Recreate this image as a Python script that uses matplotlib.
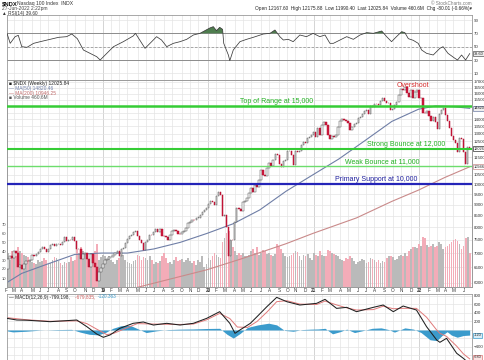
import matplotlib
matplotlib.use('Agg')
import matplotlib.pyplot as plt
import matplotlib.dates as mdates
import matplotlib.transforms as mtrans
from matplotlib.ticker import FixedLocator, FixedFormatter, NullLocator
import numpy as np
import pandas as pd

plt.rcParams['font.family'] = ['Liberation Sans', 'DejaVu Sans']

# ---------------- data (weekly) ----------------
first_week = '2018-01-29'
prior_close = 7005
closes_2018 = [6761, 6432, 6788, 6882, 6826, 7067, 7000, 6520, 6581, 6452, 6627, 6713, 6709, 6764,
               6929, 6893, 6964, 7042, 7152, 7209, 7149, 7040, 7137, 7283, 7333, 7247, 7334, 7335,
               7285, 7403, 7625, 7439, 7496, 7484, 7627, 7441, 7138, 7149, 6800, 6964, 7011, 6795,
               6526, 6949, 6647, 6517, 6066, 6330, 6466]
closes_2019 = [6629, 6769, 6773, 6850, 6858, 6947, 7013, 7070, 6879, 7140, 7176, 7378, 7517, 7634,
               7672, 7810, 7845, 7650, 7485, 7374, 7127, 7425, 7490, 7698, 7671, 7813, 7917, 7822,
               7933, 7647, 7636, 7614, 7473, 7692, 7852, 7903, 7829, 7725, 7720, 7805, 7834, 7980,
               8177, 8242, 8322, 8302, 8403, 8411, 8513, 8664, 8770, 8849]
closes_2020 = [9018, 9174, 9126, 8996, 9401, 9623, 9447, 8462, 8530, 7995, 6879, 7502, 7487, 8230,
               8833, 8784, 8718, 9121, 9152, 9325, 9556, 9815, 9589, 9946, 9849, 10207, 10768, 10503,
               10461, 10905, 11139, 11019, 11325, 11696, 11622, 11088, 10936, 11273, 11361, 11853,
               11895, 11666, 11053, 11895, 11830, 11859, 12258, 12462, 12377, 12735, 12804, 12888]
closes_2021 = [13105, 12803, 13366, 12925, 13612, 13803, 13574, 12909, 12659, 12819, 12782, 12874,
               13480, 13845, 14041, 13950, 13860, 13720, 13250, 13470, 13687, 13770, 14069, 14142,
               14360, 14640, 14703, 14427, 15008, 14960, 15128, 15125, 15085, 15356, 15653, 15374,
               15252, 15258, 14690, 14745, 15115, 15335, 15850, 16367, 16277, 16573, 16025, 15712,
               16335, 15618, 16140, 16320]
closes_2022 = [15595, 15612, 14475, 14440, 14620, 14253, 13900, 14200, 13840, 13300, 14420, 14730,
               14860, 14280, 13900, 13360, 12855, 12580, 12390, 11835, 12681, 12650, 11830, 11130,
               12140, 12026]

vol_2018 = [42, 48, 38, 30, 40, 36, 35, 44, 40, 38, 36, 34, 33, 30, 28, 27, 26, 30, 28, 29, 32, 30,
            26, 27, 30, 33, 32, 29, 27, 25, 28, 27, 28, 33, 29, 30, 42, 38, 44, 40, 36, 34, 30, 38,
            37, 40, 48, 30, 33]
vol_2019 = [36, 34, 30, 35, 30, 28, 26, 30, 32, 34, 36, 30, 28, 27, 26, 29, 30, 36, 34, 30, 33, 32,
            30, 35, 30, 26, 28, 27, 29, 34, 38, 32, 27, 28, 26, 30, 33, 29, 30, 31, 28, 30, 32, 29,
            27, 29, 24, 30, 28, 35, 22, 26]
vol_2020 = [32, 30, 34, 38, 36, 33, 32, 50, 55, 60, 62, 52, 45, 40, 36, 38, 36, 38, 35, 34, 36, 40,
            42, 38, 44, 36, 38, 41, 40, 37, 38, 36, 35, 37, 48, 46, 42, 38, 35, 33, 35, 36, 38, 40,
            39, 35, 30, 36, 34, 37, 32, 30]
vol_2021 = [38, 36, 34, 40, 36, 35, 34, 41, 40, 38, 37, 36, 34, 31, 30, 29, 32, 31, 35, 32, 29, 26,
            28, 29, 31, 30, 27, 28, 32, 31, 30, 28, 30, 27, 29, 28, 32, 34, 35, 33, 30, 31, 34, 36,
            35, 38, 34, 40, 42, 45, 44, 43]
vol_2022 = [48, 46, 56, 55, 47, 44, 46, 48, 45, 46, 50, 48, 42, 44, 46, 48, 50, 52, 53, 51, 48, 42,
            46, 55, 56, 38]

ma50_dates = ['2018-01-29', '2018-04-01', '2018-07-01', '2018-10-01', '2019-01-01', '2019-04-01',
              '2019-07-01', '2019-10-01', '2020-01-01', '2020-04-01', '2020-07-01', '2020-10-01',
              '2021-01-01', '2021-04-01', '2021-07-01', '2021-10-01', '2022-01-01', '2022-03-01',
              '2022-05-01', '2022-06-27']
ma50_vals = [5950, 6300, 6620, 6950, 7000, 7000, 7150, 7400, 7750, 8150, 8750, 9650, 10500, 11400,
             12550, 13850, 14750, 15000, 14950, 14820]
ma200_dates = ['2019-05-01', '2019-10-01', '2020-01-01', '2020-05-01', '2020-10-01', '2021-01-01',
               '2021-06-01', '2021-10-01', '2022-01-01', '2022-04-01', '2022-06-27']
ma200_vals = [5850, 6200, 6420, 6800, 7350, 7750, 8400, 9150, 9700, 10350, 10946]

rsi_dates = ['2018-02-09', '2018-02-20', '2018-03-09', '2018-03-20', '2018-04-01', '2018-04-19',
             '2018-05-12', '2018-06-04', '2018-07-08', '2018-08-06', '2018-09-03', '2018-09-21',
             '2018-10-10', '2018-10-31', '2018-11-23', '2018-12-16', '2018-12-28', '2019-01-20',
             '2019-02-12', '2019-03-18', '2019-04-21', '2019-04-29', '2019-06-01', '2019-06-24',
             '2019-07-11', '2019-07-28', '2019-08-15', '2019-09-07', '2019-09-30', '2019-10-23',
             '2019-11-15', '2019-12-08', '2019-12-25', '2020-01-11', '2020-01-23', '2020-02-03',
             '2020-02-14', '2020-02-24', '2020-02-28', '2020-03-15', '2020-03-20', '2020-04-01',
             '2020-04-24', '2020-05-17', '2020-06-09', '2020-07-14', '2020-08-06', '2020-08-23',
             '2020-09-09', '2020-09-21', '2020-10-08', '2020-10-25', '2020-11-17', '2020-12-10',
             '2021-01-02', '2021-01-25', '2021-02-12', '2021-03-01', '2021-03-13', '2021-04-05',
             '2021-04-28', '2021-05-21', '2021-06-13', '2021-07-06', '2021-07-29', '2021-08-27',
             '2021-09-13', '2021-09-30', '2021-10-17', '2021-11-04', '2021-11-15', '2021-11-27',
             '2021-12-14', '2021-12-31', '2022-01-12', '2022-01-29', '2022-02-21', '2022-03-16',
             '2022-03-27', '2022-04-13', '2022-05-07', '2022-05-16', '2022-05-30', '2022-06-13',
             '2022-06-27']
rsi_vals = [70, 55, 65, 67, 50, 49, 55, 57.5, 61, 64, 65, 69, 62, 45, 40, 35, 30, 40, 50, 57.5,
            66, 70, 47.5, 57.5, 65, 60, 50, 55, 57.5, 61, 67.5, 70, 74, 78, 80, 74, 79, 76, 55, 37.5,
            29, 45, 57.5, 61, 64, 69, 70, 75, 65, 60, 61, 57.5, 67.5, 65, 70, 65, 67.5, 55, 55, 60,
            65, 61, 67.5, 71, 70, 73.5, 65, 57.5, 65, 72.5, 71, 62, 59.5, 55, 45, 40, 37.5, 47.5, 50,
            40, 32.5, 30, 37.5, 30, 39.6]

macd_dates = ['2018-02-09', '2018-03-15', '2018-04-19', '2018-07-08', '2018-10-08', '2018-11-12',
              '2018-12-16', '2019-01-08', '2019-01-31', '2019-03-06', '2019-04-21', '2019-05-26',
              '2019-06-30', '2019-08-15', '2019-09-30', '2019-11-15', '2019-12-31', '2020-02-14',
              '2020-03-20', '2020-04-07', '2020-04-24', '2020-05-30', '2020-06-22', '2020-07-26',
              '2020-08-29', '2020-10-03', '2020-11-17', '2021-01-14', '2021-02-12', '2021-03-24',
              '2021-04-28', '2021-06-01', '2021-07-29', '2021-09-01', '2021-10-06', '2021-11-09',
              '2021-12-25', '2022-01-29', '2022-03-05', '2022-03-16', '2022-04-08', '2022-05-13',
              '2022-06-05', '2022-06-27']
macd_vals = [274, 235, 230, 196, 235, 78, -94, -172, -117, 39, 157, 188, 117, 157, 117, 157, 274,
             431, 157, -78, 0, 157, 313, 548, 768, 666, 588, 627, 721, 509, 533, 431, 533, 588, 431,
             564, 470, 78, -235, -290, -196, -548, -666, -799]
signal_dates = ['2018-02-09', '2018-04-19', '2018-07-08', '2018-10-08', '2018-11-12', '2018-12-16',
                '2019-01-20', '2019-02-12', '2019-03-20', '2019-05-05', '2019-06-30', '2019-09-30',
                '2019-11-15', '2019-12-31', '2020-02-14', '2020-03-20', '2020-04-15', '2020-05-20',
                '2020-06-22', '2020-07-26', '2020-08-29', '2020-10-03', '2020-11-17', '2021-01-14',
                '2021-02-12', '2021-03-24', '2021-04-28', '2021-06-01', '2021-07-29', '2021-09-01',
                '2021-10-06', '2021-11-09', '2021-12-25', '2022-01-29', '2022-03-05', '2022-03-16',
                '2022-04-08', '2022-05-13', '2022-06-05', '2022-06-27']
signal_vals = [290, 240, 205, 215, 150, 20, -110, -80, 20, 150, 140, 130, 140, 240, 390, 270, 70,
               60, 200, 420, 666, 690, 610, 600, 680, 590, 520, 470, 480, 560, 500, 510, 509, 300, 0,
               -78, -150, -380, -560, -680]
hist_dates = ['2018-02-09', '2018-03-01', '2018-04-15', '2018-06-01', '2018-08-01', '2018-09-20',
              '2018-10-20', '2018-11-20', '2018-12-20', '2019-01-15', '2019-02-10', '2019-03-10',
              '2019-04-10', '2019-05-10', '2019-06-05', '2019-07-10', '2019-08-20', '2019-10-01',
              '2019-11-15', '2019-12-31', '2020-02-14', '2020-03-10', '2020-04-01', '2020-04-25',
              '2020-05-20', '2020-06-25', '2020-08-01', '2020-08-29', '2020-09-25', '2020-10-25',
              '2020-11-25', '2020-12-25', '2021-01-20', '2021-02-12', '2021-03-10', '2021-04-05',
              '2021-04-28', '2021-05-25', '2021-06-20', '2021-07-25', '2021-08-25', '2021-09-20',
              '2021-10-10', '2021-11-15', '2021-12-15', '2022-01-10', '2022-02-10', '2022-03-05',
              '2022-03-25', '2022-04-10', '2022-04-25', '2022-05-15', '2022-06-05', '2022-06-27']
hist_vals = [-20, -45, -30, -5, 10, 15, -50, -100, -115, -60, 40, 100, 110, 20, -60, -20, 10, 20,
             25, 35, 40, -100, -190, -80, 60, 120, 160, 120, -10, -30, 10, 20, 25, 40, -90, -40, 20,
             -60, -20, 40, 50, 10, -50, 50, 20, -60, -230, -250, -120, -40, -120, -170, -130, -120]

levels = [15000, 12000, 11000, 10000]
level_labels = ['Top of Range at 15,000', 'Strong Bounce at 12,000', 'Weak Bounce at 11,000',
                'Primary Support at 10,000']
level_label_dates = ['2020-04-24', '2021-07-07', '2021-04-22', '2021-03-18']

price_ticks = list(range(6000, 17001, 500))
rsi_ticks = [10, 30, 50, 70, 90]
macd_ticks = [-600, -400, -200, 0, 200, 400, 600, 800]
vol_ticks = [10, 20, 30, 40, 50, 60, 70]
month_letters = ['J', 'F', 'M', 'A', 'M', 'J', 'J', 'A', 'S', 'O', 'N', 'D']

# ---------------- derived ----------------
closes = np.array(closes_2018 + closes_2019 + closes_2020 + closes_2021 + closes_2022, float)
volume = np.array(vol_2018 + vol_2019 + vol_2020 + vol_2021 + vol_2022, float)
weeks = pd.date_range(first_week, periods=len(closes), freq='7D')
xs = mdates.date2num(weeks)
opens = np.concatenate([[prior_close], closes[:-1]])
up = closes >= opens

def dn(lst):
    return mdates.date2num(pd.to_datetime(lst))

# ---------------- figure ----------------
W_PX, H_PX = 485, 360
fig = plt.figure(figsize=(4.85, 3.6), dpi=100)
fig.patch.set_facecolor('white')
L = 7 / W_PX
W = 465 / W_PX
ax_rsi = fig.add_axes([L, 1 - 80 / H_PX, W, 65 / H_PX])
ax_vol = fig.add_axes([L, 1 - 287 / H_PX, W, 207 / H_PX])
ax = ax_vol.twinx()
ax_macd = fig.add_axes([L, 0.0, W, 66 / H_PX])
ax.set_zorder(ax_vol.get_zorder() + 1)
ax.patch.set_visible(False)

x0 = mdates.date2num(pd.Timestamp('2018-02-09'))
x1 = mdates.date2num(pd.Timestamp('2022-07-05'))

GRID = '#e4e4e4'
YEARGRID = '#c4c4c4'
SPINE = '#9a9a9a'

month_idx = [i for i in range(1, len(weeks)) if weeks[i].month != weeks[i - 1].month]

for a in (ax_rsi, ax_vol, ax_macd):
    a.set_xlim(x0, x1)
    a.set_xticks([])
    for i in month_idx:
        col = YEARGRID if weeks[i].month == 1 else GRID
        a.axvline(xs[i], color=col, lw=0.5, zorder=0)
    for s in a.spines.values():
        s.set_color(SPINE)
        s.set_linewidth(0.6)
ax.set_xlim(x0, x1)
ax.set_xticks([])
for s in ax.spines.values():
    s.set_color(SPINE)
    s.set_linewidth(0.6)


def keep_ticks(ticks, to_px, box_vals, gap):
    bpx = [to_px(v) for v in box_vals]
    return [t for t in ticks if all(abs(to_px(t) - b) >= gap for b in bpx)]


# ---------------- RSI ----------------
ax_rsi.set_ylim(0, 97.5)
rx = dn(rsi_dates)
rv = np.array(rsi_vals)
for t in rsi_ticks:
    ax_rsi.axhline(t, color=GRID, lw=0.5, zorder=0)
ax_rsi.axhline(70, color='#8c8c8c', lw=0.7, zorder=1)
ax_rsi.axhline(30, color='#8c8c8c', lw=0.7, zorder=1)
ax_rsi.axhline(50, color='#9a9a9a', lw=0.6, ls=(0, (3, 2)), zorder=1)
ax_rsi.fill_between(rx, rv, 70, where=rv >= 70, interpolate=True, color='#4e7d4e', lw=0, zorder=2)
ax_rsi.plot(rx, rv, color='#3a3a3a', lw=0.55, zorder=3)
ax_rsi.yaxis.tick_right()
rsi_px = lambda v: (97.5 - v) / 97.5 * 65
ax_rsi.yaxis.set_major_locator(FixedLocator(keep_ticks(rsi_ticks, rsi_px, [rsi_vals[-1]], 5.5)))
ax_rsi.tick_params(axis='y', length=0, labelsize=3.2, pad=1.5, colors='#333333')

# ---------------- price panel ----------------
ax.set_yscale('log')
PMIN, PMAX = 5871, 17164
ax.set_ylim(PMIN, PMAX)
price_px = lambda v: 207 * np.log(PMAX / v) / np.log(PMAX / PMIN)
box_prices = [ma50_vals[-1], closes[-1], ma200_vals[-1]]
shown_price_ticks = keep_ticks(price_ticks, price_px, box_prices, 5.5)
ax.yaxis.set_major_locator(FixedLocator(shown_price_ticks))
ax.yaxis.set_major_formatter(FixedFormatter([str(t) for t in shown_price_ticks]))
ax.yaxis.set_minor_locator(NullLocator())
ax.tick_params(axis='y', length=0, labelsize=3.2, pad=1.5, colors='#333333')

gtrans = mtrans.blended_transform_factory(ax_vol.transAxes, ax.transData)
for p in price_ticks:
    ax_vol.plot([0, 1], [p, p], transform=gtrans, color=GRID, lw=0.5, zorder=0)

# volume
ax_vol.set_ylim(0, 230)
vcol = np.where(up, '#bababa', '#f3acb8')
ax_vol.bar(xs, volume, width=6.0, color=vcol, lw=0, zorder=1)
ax_vol.yaxis.tick_left()
ax_vol.yaxis.set_major_locator(FixedLocator(vol_ticks))
ax_vol.tick_params(axis='y', length=0, labelsize=3.0, pad=0.5, colors='#444444')

# moving averages
ax.plot(dn(ma200_dates), ma200_vals, color='#c98a8a', lw=0.8, zorder=2)
ax.plot(dn(ma50_dates), ma50_vals, color='#6f7ea6', lw=0.8, zorder=2)

# candles
bottoms = np.minimum(opens, closes)
heights = np.maximum(np.abs(closes - opens), 15)
fc = np.where(up, 'white', '#d2183c')
ec = np.where(up, '#4a4a4a', '#b01030')
ax.bar(xs, heights, bottom=bottoms, width=5.0, color=fc, edgecolor=ec, lw=0.35, zorder=4)

# support / resistance lines
line_styles = [('#35cc35', 1.8), ('#35cc35', 1.5), ('#6ddd6d', 1.0), ('#2424b8', 1.6)]
text_cols = ['#22b022', '#22b022', '#22b022', '#1c1c9c']
for lev, (c, lw) in zip(levels, line_styles):
    ax.axhline(lev, color=c, lw=lw, zorder=5)
for lab, d, lev, tc in zip(level_labels, level_label_dates, levels, text_cols):
    ax.text(dn([d])[0], lev * 1.004, lab, color=tc, fontsize=5.0, ha='left', va='bottom', zorder=6)
ax.text(dn(['2021-10-19'])[0], 16724, 'Overshoot', color='#d42a2a', fontsize=5.0,
        ha='left', va='center', zorder=6)

# month labels
ltrans = mtrans.blended_transform_factory(ax_vol.transData, ax_vol.transAxes)
for i in month_idx:
    m = weeks[i].month
    lab = f"{weeks[i].year % 100:02d}" if m == 1 else month_letters[m - 1]
    fw = 'bold' if m == 1 else 'normal'
    ax_vol.text(xs[i], -0.019, lab, transform=ltrans, fontsize=3.3, ha='center', va='center',
                color='#333333', fontweight=fw, clip_on=False)

# ---------------- MACD ----------------
MMIN, MMAX = -706, 847
ax_macd.set_ylim(MMIN, MMAX)
for t in macd_ticks:
    ax_macd.axhline(t, color=GRID, lw=0.5, zorder=0)
ax_macd.fill_between(dn(hist_dates), 0, hist_vals, color='#3b9bcc', lw=0, zorder=1)
ax_macd.plot(dn(signal_dates), signal_vals, color='#e07a7a', lw=0.7, zorder=2)
ax_macd.plot(dn(macd_dates), macd_vals, color='#202020', lw=0.75, zorder=3)
ax_macd.yaxis.tick_right()
macd_px = lambda v: (MMAX - v) / (MMAX - MMIN) * 66
macd_box_vals = [hist_vals[-1], -640]
ax_macd.yaxis.set_major_locator(FixedLocator(keep_ticks(macd_ticks, macd_px, macd_box_vals, 5.5)))
ax_macd.tick_params(axis='y', length=0, labelsize=3.2, pad=1.5, colors='#333333')

# ---------------- value boxes on the right ----------------
def box(a, val, s, ec, fc='white', tc='#222222'):
    tr = mtrans.blended_transform_factory(a.transAxes, a.transData)
    a.text(1.004, val, s, transform=tr, fontsize=2.8, ha='left', va='center', color=tc,
           clip_on=False, zorder=10,
           bbox=dict(boxstyle='square,pad=0.12', fc=fc, ec=ec, lw=0.5))

box(ax, ma50_vals[-1], '14820', '#6f7ea6', fc='#eeeeee')
box(ax, closes[-1], '12026', '#333333')
box(ax, ma200_vals[-1], '10946', '#c98a8a')
box(ax_rsi, rsi_vals[-1], '39.60', '#555555', fc='#eeeeee')
box(ax_macd, macd_box_vals[0], '-120', '#3b9bcc', fc='#d8ecf6')
box(ax_macd, macd_box_vals[1], '-680', '#e07a7a', fc='#fbe3e3')

# ---------------- texts ----------------
def ftext(x, y, s, **kw):
    fig.text(x / W_PX, 1 - y / H_PX, s, **kw)

ftext(2, 3.5, r'\$NDX', fontsize=4.2, fontweight='bold', va='center', color='#111111')
ftext(17, 3.5, 'Nasdaq 100 Index  INDX', fontsize=3.6, va='center', color='#333333')
ftext(2, 8.5, '27-Jun-2022 2:22pm', fontsize=3.5, va='center', color='#444444')
ftext(2, 13.2, '\u25b2 RSI(14) 39.60', fontsize=3.4, va='center', color='#333333')
ftext(472, 3.5, '\u00a9 StockCharts.com', fontsize=3.3, va='center', ha='right', color='#777777')
ftext(472, 8.6, 'Open 12167.60  High 12175.88  Low 11990.40  Last 12025.84  Volume 460.6M  '
      'Chg -80.01 (-0.66%)\u25be', fontsize=3.45, va='center', ha='right', color='#222222')

ftext(9, 84, '\u25a0 \\$NDX (Weekly) 12025.84', fontsize=3.5, va='center', color='#222222')
ftext(9, 88.5, '\u2014 MA(50) 14820.46', fontsize=3.5, va='center', color='#6f7ea6')
ftext(9, 93, '\u2014 MA(200) 10946.25', fontsize=3.5, va='center', color='#c06a6a')
ftext(9, 97.5, '\u25a0 Volume 460.6M', fontsize=3.5, va='center', color='#555555')
ftext(9, 297, '\u2014 MACD(12,26,9) -799.198, ', fontsize=3.4, va='center', color='#222222')
ftext(75, 297, '-679.835, ', fontsize=3.4, va='center', color='#d06060')
ftext(98, 297, '-120.363', fontsize=3.4, va='center', color='#3b9bcc')

fig.savefig('out.png', dpi=100, facecolor='white')
